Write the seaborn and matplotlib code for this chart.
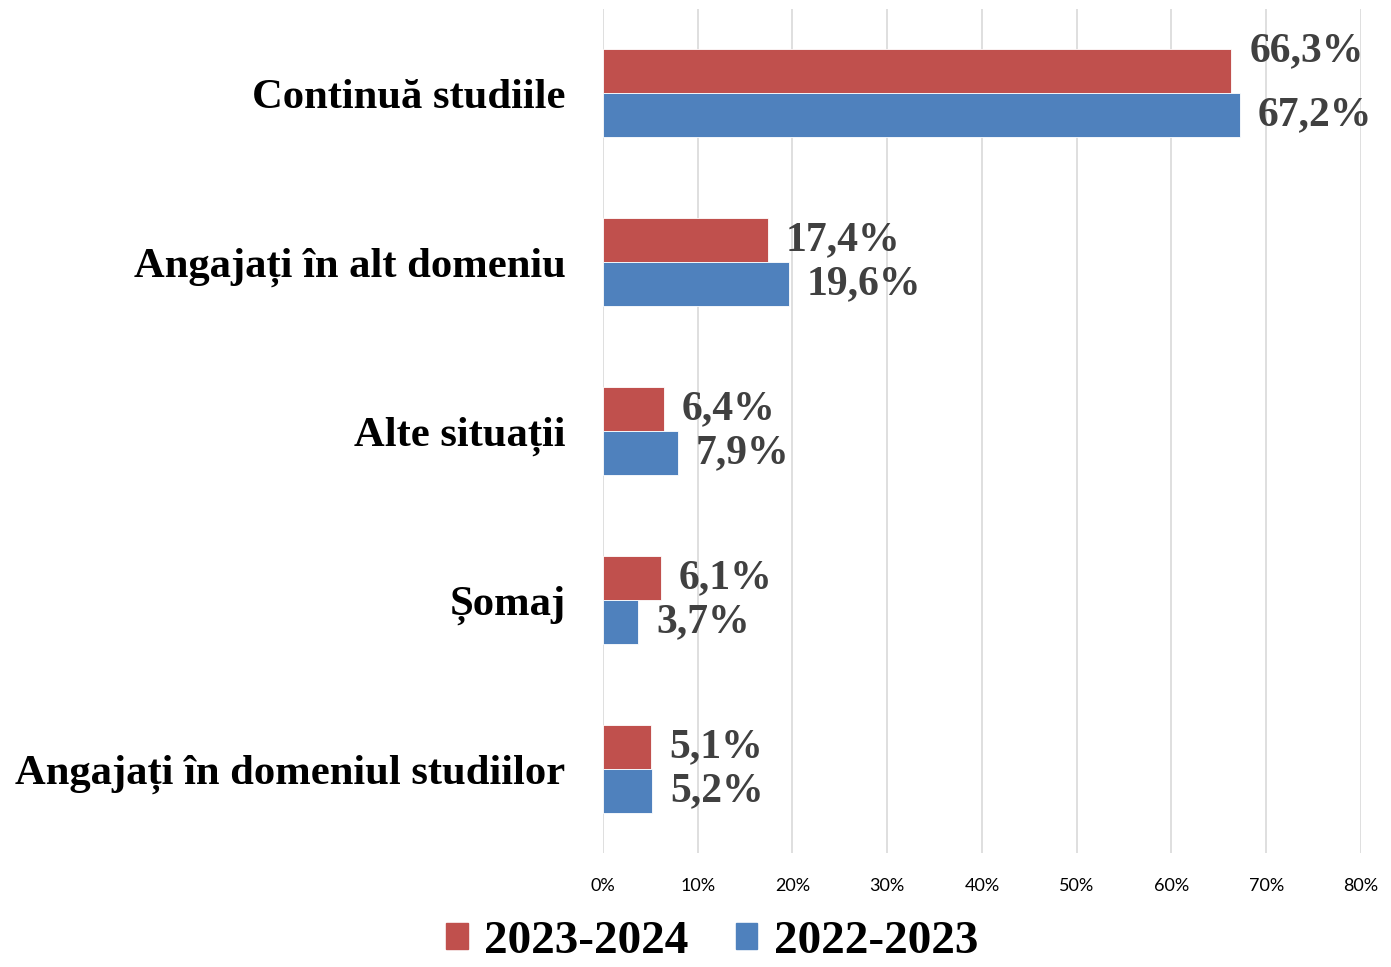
import matplotlib.pyplot as plt
import seaborn as sns
import pandas as pd

# categorii si valori (%)
categories = ['Continuă studiile', 'Angajați în alt domeniu', 'Alte situații',
              'Șomaj', 'Angajați în domeniul studiilor']
years = ['2023-2024', '2022-2023']
values_2324 = [66.3, 17.4, 6.4, 6.1, 5.1]
values_2223 = [67.2, 19.6, 7.9, 3.7, 5.2]
x_ticks = [0, 10, 20, 30, 40, 50, 60, 70, 80]

df = pd.DataFrame({
    'cat': categories * 2,
    'an': [years[0]] * 5 + [years[1]] * 5,
    'val': values_2324 + values_2223,
})

sns.set_theme(style='white')
plt.rcParams['font.family'] = ['Liberation Serif', 'DejaVu Serif']
plt.rcParams['text.color'] = 'black'

fig = plt.figure(figsize=(13.91, 9.67), dpi=100)
ax = fig.add_axes([0.4335, 0.1174, 0.5449, 0.8738])

sns.barplot(data=df, x='val', y='cat', hue='an', hue_order=years, order=categories,
            palette=['#c0504d', '#4f81bd'], saturation=1, width=0.52, orient='h', ax=ax,
            edgecolor='white', linewidth=0.6, legend=False)

all_labels = []
for cont, vals in zip(ax.containers, [values_2324, values_2223]):
    txts = ax.bar_label(cont, labels=[f'{v:.1f}%'.replace('.', ',') for v in vals],
                        padding=13, fontsize=30, fontweight='bold', color='#404040',
                        family=['Liberation Serif'])
    all_labels.append(txts)
# eticheta 66,3% e putin ridicata in original
all_labels[0][0].xyann = (13, 14)

ax.set_xlim(0, 80)
ax.set_ylim(4.5, -0.5)
ax.set_xticks(x_ticks)
ax.set_xticklabels([f'{t}%' for t in x_ticks], family=['Lato'], fontsize=13, color='black')
ax.tick_params(axis='x', length=0, pad=18)
ax.tick_params(axis='y', length=0, pad=27)
for lab in ax.get_yticklabels():
    lab.set_fontsize(30.7)
    lab.set_fontweight('bold')
    lab.set_color('black')
ax.set_xlabel('')
ax.set_ylabel('')
ax.grid(axis='x', color='#d9d9d9', linewidth=1.2)
ax.set_axisbelow(True)
sns.despine(ax=ax, left=True, bottom=True)

handles = [plt.Rectangle((0, 0), 1, 1, color=c) for c in ['#c0504d', '#4f81bd']]
leg = fig.legend(handles, years, loc='lower center', bbox_to_anchor=(0.512, -0.03), ncol=2,
                 frameon=False, prop={'family': 'Liberation Serif', 'weight': 'bold', 'size': 34},
                 handlelength=0.45, handleheight=0.45, handletextpad=0.35, columnspacing=1.0,
                 borderpad=0.2)
for t in leg.get_texts():
    t.set_color('black')

fig.savefig('out.png', dpi=100)
plt.close(fig)
